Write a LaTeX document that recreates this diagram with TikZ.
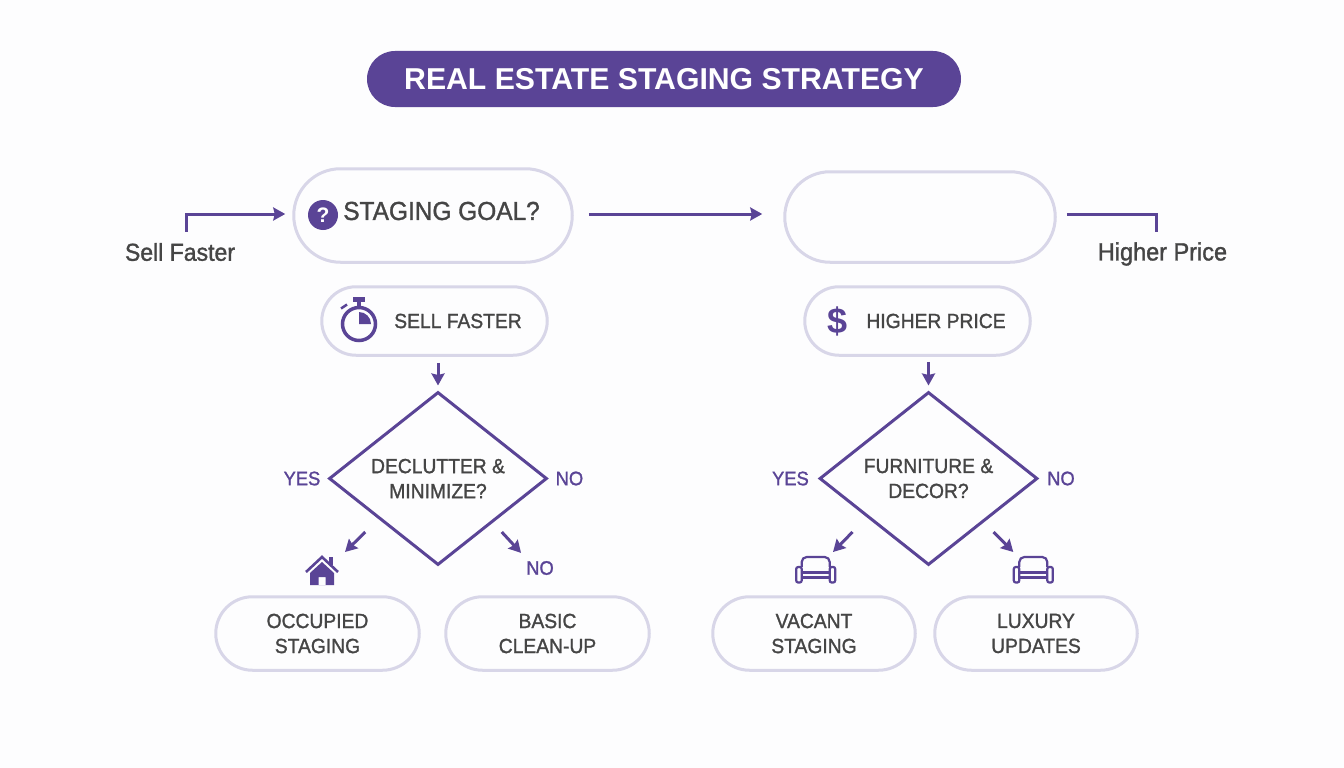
\documentclass[tikz,border=0pt]{standalone}
\usepackage{fontspec}
\usepackage{tikz}
\usetikzlibrary{arrows.meta,shapes.geometric,shapes.misc}
\setmainfont{Liberation Sans}
\newfontfamily\medfont[FakeBold=1.3,FakeStretch=0.94]{Liberation Sans}
\definecolor{purp}{HTML}{5A4496}
\definecolor{edgec}{HTML}{D8D6E8}
\definecolor{ink}{HTML}{454545}
\definecolor{paper}{HTML}{FDFDFE}
\pgfdeclarelayer{bg}
\pgfsetlayers{bg,main}
\tikzset{
    every node/.style={inner sep=0mm, text=ink, font=\medfont\fontsize{20.5}{25}\selectfont, align=center}
}
\tikzset{every label/.style={text=purp, font=\medfont\fontsize{19.5}{24}\selectfont}}
\tikzset{
    pill/.style={rounded rectangle, draw=edgec, line width=3pt},
    rhomb/.style={diamond, aspect=1.26, draw=purp, line width=3pt, minimum width=218pt, minimum height=173pt},
    flow/.style={draw=purp, line width=3pt, -{Stealth[length=12pt,width=13pt,inset=1.5pt]}},
    plain/.style={draw=purp, line width=3pt},
    house/.pic={
        \draw[purp, line width=2.6pt] (-16,1) -- (0,-14) -- (16,1);
        \fill[purp] (6.5,-14) rectangle (11,-6);
        \fill[purp, even odd rule] (-12,2) -- (0,-9) -- (12,2) -- (12,14) -- (-12,14) -- cycle (-3.5,14) rectangle (3.5,6);
    },
    sofa/.pic={
        \draw[purp, line width=2.2pt, rounded corners=5pt] (-14,-3) -- (-14,-13) -- (14,-13) -- (14,-3);
        \draw[purp, line width=2.2pt, rounded corners=2pt] (-19.5,-3) rectangle (-14,12.5);
        \draw[purp, line width=2.2pt, rounded corners=2pt] (14,-3) rectangle (19.5,12.5);
        \draw[purp, line width=2.2pt] (-14,2.5) -- (14,2.5) (-14,7.5) -- (14,7.5);
    },
    watch/.pic={
        \draw[purp, line width=3.5pt] (0,0) circle (16.5);
        \fill[purp] (0,0) -- (0,-12) arc (-90:0:12) -- cycle;
        \fill[purp] (-6,-27) rectangle (6,-22.5);
        \fill[purp] (-1.6,-23) rectangle (1.6,-17);
        \draw[purp, line width=2.5pt] (-18,-15.5) -- (-12,-19.5);
    }
}

\begin{document}
\begin{tikzpicture}[x=1pt, y=-1pt]
        \useasboundingbox (0,0) rectangle (1344,768);
        \node (t0) [rounded rectangle, fill=purp, minimum width=594pt, minimum height=56pt, text=white, font=\bfseries\fontsize{30.2}{34}\selectfont] at (664,79) {REAL ESTATE STAGING STRATEGY};
        \node (g0) [pill, minimum width=278.5pt, minimum height=93.5pt] at (433,215.5) {};
        \node (g1) [pill, minimum width=270.5pt, minimum height=90.5pt] at (920,217) {};
        \node (q0) [circle, fill=purp, minimum size=30pt, text=white, font=\bfseries\fontsize{21}{21}\selectfont] at (323,215) {?};
        \node (g2) [font=\medfont\fontsize{26}{32}\selectfont] at (441.5,211) {STAGING GOAL?};
        \node (l0) [font=\medfont\fontsize{24.5}{28}\selectfont] at (180,252) {Sell Faster};
        \node (l1) [font=\medfont\fontsize{25}{28}\selectfont] at (1162.5,254) {Higher Price};
        \node (s0) [pill, minimum width=225.5pt, minimum height=68.5pt] at (434.5,321) {};
        \node (s1) [pill, minimum width=225.5pt, minimum height=68.5pt] at (917.5,321) {};
        \node (s2) at (458,321) {SELL FASTER};
        \node (s3) at (936,321) {HIGHER PRICE};
        \node (m0) [text=purp, font=\bfseries\fontsize{36}{36}\selectfont] at (838,321) {\$};
        \node (d0) [rhomb, label={[label distance=7pt]left:{YES}}, label={[label distance=7pt]right:{NO}}] at (438,478.5) {DECLUTTER \&\\MINIMIZE?};
        \node (d1) [rhomb, label={[label distance=9pt]left:{YES}}, label={[label distance=8pt]right:{NO}}] at (928.5,478.5) {FURNITURE \&\\DECOR?};
        \node (n0) [text=purp, font=\medfont\fontsize{19.5}{24}\selectfont] at (540,568) {NO};
        \node (i0) at (322,571) {};
        \node (i2) at (815.7,570) {};
        \node (i3) at (1033.3,570) {};
        \node (b0) [pill, minimum width=203.5pt, minimum height=73.5pt] at (317.5,633.5) {OCCUPIED\\STAGING};
        \node (b1) [pill, minimum width=203.5pt, minimum height=73.5pt] at (547.5,633.5) {BASIC\\CLEAN-UP};
        \node (b2) [pill, minimum width=202.5pt, minimum height=73.5pt] at (814,633.5) {VACANT\\STAGING};
        \node (b3) [pill, minimum width=202.5pt, minimum height=73.5pt] at (1036,633.5) {LUXURY\\UPDATES};
        \pic at (359,324) {watch};
        \pic at (i0) {house};
        \pic at (i2) {sofa};
        \pic at (i3) {sofa};
        \begin{pgfonlayer}{bg}
                \fill[paper] (0,0) rectangle (1344,768);
                \draw[flow] ([shift={(6pt,11pt)}]l0.north) |- ([shift={(-7pt,1.5pt)}]g0.west);
                \draw[flow, shorten <=15pt, shorten >=21pt] ([yshift=1.5pt]g0.east) -- ([yshift=1.5pt]g0.east -| g1.west);
                \draw[plain] ([yshift=3pt,xshift=10pt]g1.east) -| ([shift={(-6pt,10pt)}]l1.north);
                \draw[flow, shorten <=6pt, shorten >=5pt] (s0.south -| d0.north) -- (d0.north);
                \draw[flow, shorten <=5pt, shorten >=5pt] (s1.south -| d1.north) -- (d1.north);
                \draw[flow] ([shift={(-17.5pt,-9.5pt)}]d0.south west) -- ([shift={(23pt,19pt)}]i0.center);
                \draw[flow] ([shift={(8.5pt,-9.5pt)}]d0.south east) -- ([shift={(-5pt,8pt)}]n0.north west);
                \draw[flow] ([shift={(-20.75pt,-9.5pt)}]d1.south west) -- ([shift={(17.3pt,18pt)}]i2.center);
                \draw[flow] ([shift={(9.75pt,-9.5pt)}]d1.south east) -- ([shift={(-20pt,18pt)}]i3.center);
        \end{pgfonlayer}
\end{tikzpicture}
\end{document}
